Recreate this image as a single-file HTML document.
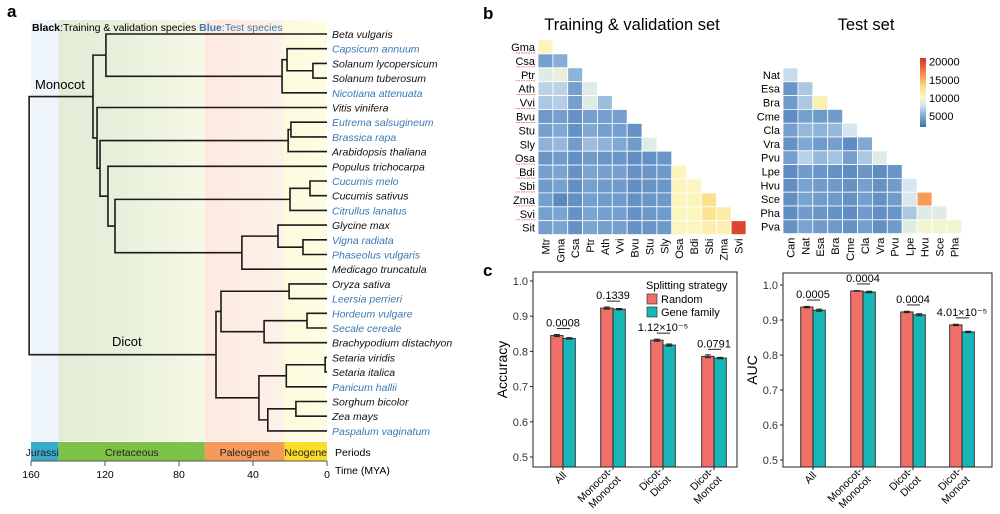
<!DOCTYPE html>
<html><head><meta charset="utf-8">
<style>
html,body{margin:0;padding:0;background:#fff;}
svg{display:block;font-family:"Liberation Sans",Arial,sans-serif;}
</style></head>
<body>
<svg id="fig" width="1000" height="514" viewBox="0 0 1000 514" xmlns="http://www.w3.org/2000/svg">
<defs>
<linearGradient id="eraGrad" x1="31" x2="327" y1="0" y2="0" gradientUnits="userSpaceOnUse">
<stop offset="0" stop-color="#eef5fa"/><stop offset="0.092" stop-color="#eef5fa"/>
<stop offset="0.094" stop-color="#e2ecd6"/><stop offset="0.3" stop-color="#e8f0dc"/>
<stop offset="0.45" stop-color="#eef4e0"/><stop offset="0.586" stop-color="#f6f9e6"/>
<stop offset="0.59" stop-color="#fde9df"/><stop offset="0.85" stop-color="#fdf1e8"/>
<stop offset="0.857" stop-color="#fdfbdc"/><stop offset="1" stop-color="#fefce4"/>
</linearGradient>
<linearGradient id="cbar" x1="0" x2="0" y1="1" y2="0">
<stop offset="0" stop-color="#3f6fad"/><stop offset="0.16" stop-color="#7fa9d4"/>
<stop offset="0.32" stop-color="#d6e6f0"/><stop offset="0.42" stop-color="#fbf8c4"/>
<stop offset="0.58" stop-color="#fde08b"/><stop offset="0.74" stop-color="#f89b56"/>
<stop offset="1" stop-color="#d73027"/>
</linearGradient>
</defs>
<g id="panelA"></g>
<g id="panelB"></g>
<g id="panelC"></g>
</svg>
<script>
// ---------- Panel a data ----------
const leafNames = ["Beta vulgaris","Capsicum annuum","Solanum lycopersicum","Solanum tuberosum","Nicotiana attenuata","Vitis vinifera","Eutrema salsugineum","Brassica rapa","Arabidopsis thaliana","Populus trichocarpa","Cucumis melo","Cucumis sativus","Citrullus lanatus","Glycine max","Vigna radiata","Phaseolus vulgaris","Medicago truncatula","Oryza sativa","Leersia perrieri","Hordeum vulgare","Secale cereale","Brachypodium distachyon","Setaria viridis","Setaria italica","Panicum hallii","Sorghum bicolor","Zea mays","Paspalum vaginatum"];
const testLeaves = ["Capsicum annuum","Nicotiana attenuata","Eutrema salsugineum","Brassica rapa","Cucumis melo","Citrullus lanatus","Vigna radiata","Phaseolus vulgaris","Leersia perrieri","Hordeum vulgare","Secale cereale","Panicum hallii","Paspalum vaginatum"];
// nodes: [id, age (MYA), child1, child2]; children are leaf indexes (numbers) or node ids
const treeNodes = [
["sol1",7.6,2,3],["sol2",21.6,1,"sol1"],["sol3",24.3,"sol2",4],["ast",119.5,0,"sol3"],
["bra1",19.5,6,7],["bra2",21,"bra1",8],
["cuc1",9.2,10,11],["cuc2",20,"cuc1",12],
["leg1",13,14,15],["leg2",26.5,13,"leg1"],["leg3",46,"leg2",16],
["fab",114.6,"cuc2","leg3"],["pop",118.4,9,"fab"],["ros",122.7,"bra2","pop"],
["vit",124.3,5,"ros"],["eud",126.5,"ast","vit"],
["ory",20.5,17,18],["poo1",10.8,19,20],["poo2",34,"poo1",21],["bop",57.3,"ory","poo2"],
["set1",1,22,23],["set2",22,"set1",24],["and1",16.8,25,26],["and2",32,"and1",27],
["pac",36.8,"set2","and2"],["mono",60,"bop","pac"],
["root",161,"eud","mono"]];
const timeTicks = [160,120,80,40,0];
const periodNames = ["Jurassic","Cretaceous","Paleogene","Neogene"];
const periodStart = [160,145,66,23];
const periodEnd = [145,66,23,0];
const periodColors = ["#3aaacb","#7dc146","#f79a59","#fcdc2a"];

// ---------- Panel b data ----------
const trainLabels = ["Mtr","Gma","Csa","Ptr","Ath","Vvi","Bvu","Stu","Sly","Osa","Bdi","Sbi","Zma","Svi","Sit"];
const trainValues = [
[10500],
[4500,5200],
[8500,9000,5500],
[7000,7000,4500,8500],
[6500,6800,4500,8500,6000],
[4200,4500,3800,4500,4500,4500],
[4500,5000,3800,5000,4500,4500,3800],
[5500,5800,4300,6000,5500,5000,4300,8500],
[4000,4300,3700,4300,4000,4000,3600,3800,4000],
[4500,4800,3800,4800,4500,4500,3800,4000,4200,10500],
[4300,4600,3700,4600,4300,4300,3700,3900,4100,10500,10300],
[4500,3300,3700,4500,4300,4300,3800,4000,4200,10500,10500,13000],
[4600,4800,3800,4800,4500,4500,3800,4100,4300,10300,10300,12500,11500],
[4500,4800,3800,4800,4500,4500,3800,4000,4200,10200,10200,11200,11000,20000]];
const testLabels = ["Can","Nat","Esa","Bra","Cme","Cla","Vra","Pvu","Lpe","Hvu","Sce","Pha","Pva"];
const testValues = [
[7500],
[4000,6500],
[4300,6500,11000],
[3500,4500,4200,4300],
[4500,5800,5500,5800,8000],
[3800,5000,4300,4500,3500,5000],
[4500,7000,5800,6300,4500,6500,8500],
[3500,4300,4000,3800,3500,4000,3500,4000],
[3700,4700,4300,4200,3800,4500,3800,4300,8000],
[3700,4700,4300,4200,3800,4500,3800,4300,8200,16000],
[3500,4300,4000,3800,3500,4300,3700,4000,6500,8500,8500],
[3800,4700,4300,4200,3800,4500,3700,4300,8500,9500,9500,9500]];
const colorbarTicks = [5000,10000,15000,20000];
const underlined = ["Gma","Csa","Ptr","Ath","Vvi","Bvu","Osa","Bdi","Sbi","Zma","Svi"];

// ---------- Panel c data ----------
const groups = ["All","Monocot-Monocot","Dicot-Dicot","Dicot-Moncot"];
const accRandom = [0.845,0.923,0.832,0.786];
const accGene = [0.837,0.920,0.818,0.781];
const accErrR = [0.003,0.003,0.003,0.004];
const accErrG = [0.002,0.002,0.003,0.002];
const accP = ["0.0008","0.1339","1.12×10⁻⁵","0.0791"];
const aucRandom = [0.937,0.983,0.923,0.886];
const aucGene = [0.928,0.980,0.915,0.866];
const aucErrR = [0.002,0.001,0.002,0.002];
const aucErrG = [0.003,0.002,0.003,0.002];
const aucP = ["0.0005","0.0004","0.0004","4.01×10⁻⁵"];
const yTicks = [0.5,0.6,0.7,0.8,0.9,1.0];

const NS="http://www.w3.org/2000/svg";
function mk(parent,tag,attrs,text){const e=document.createElementNS(NS,tag);for(const k in attrs)e.setAttribute(k,attrs[k]);if(text!==undefined)e.textContent=text;parent.appendChild(e);return e;}

// ================= Panel a =================
(function(){
const g=document.getElementById('panelA');
const xT=a=>327-a*1.85;
const yL=i=>34+i*14.7;
let t=mk(g,'text',{x:7,y:17,'font-size':17,'font-weight':'bold'},'a');


const bg=mk(g,'rect',{x:31,y:20,width:296,height:421,fill:'url(#eraGrad)'});


const lg=mk(g,'text',{x:32,y:31,'font-size':10.5});


mk(lg,'tspan',{'font-weight':'bold'},'Black');mk(lg,'tspan',{},':Training & validation species  ');
mk(lg,'tspan',{'font-weight':'bold',fill:'#3b78b0'},'Blue');mk(lg,'tspan',{fill:'#3b78b0'},':Test species');
const pos={};
const getY=k=>typeof k==='number'?yL(k):pos[k].y;
const getX=k=>typeof k==='number'?327:pos[k].x;
treeNodes.forEach(n=>{
 const [id,age,a,b]=n;
 const x=xT(age), ya=getY(a), yb=getY(b);
 pos[id]={x:x,y:(ya+yb)/2};
 const br=mk(g,'path',{d:`M${getX(a)},${ya}H${x}V${yb}H${getX(b)}`,fill:'none',stroke:'#1a1a1a','stroke-width':1.6});
 
 
});
leafNames.forEach((nm,i)=>{
 const e=mk(g,'text',{x:332,y:yL(i)+4,'font-size':10.5,'font-style':'italic',fill:testLeaves.includes(nm)?'#3b78b0':'#111'},nm);
 
 
});
t=mk(g,'text',{x:35,y:89,'font-size':13},'Monocot');


t=mk(g,'text',{x:112,y:346,'font-size':13},'Dicot');


periodNames.forEach((p,i)=>{
 const x0=xT(periodStart[i]),x1=xT(periodEnd[i]);
 const r=mk(g,'rect',{x:x0,y:442,width:x1-x0,height:19,fill:periodColors[i]});
 
 
 const tx=mk(g,'text',{x:(x0+x1)/2,y:456,'font-size':10.5,'text-anchor':'middle',fill:'#222'},p);
 
 
});
t=mk(g,'text',{x:335,y:456,'font-size':10.5},'Periods');


const ax=mk(g,'line',{x1:31,x2:327,y1:461,y2:461,stroke:'#555'});


timeTicks.forEach(v=>{
 mk(g,'line',{x1:xT(v),x2:xT(v),y1:461,y2:466,stroke:'#555'});
 const e=mk(g,'text',{x:xT(v),y:478,'font-size':10.5,'text-anchor':'middle'},String(v));
 
 
});
t=mk(g,'text',{x:335,y:474,'font-size':10.5},'Time (MYA)');


})();

// ================= Panel b =================
function colorOf(v){
 const st=[[2000,[63,111,173]],[5000,[127,169,212]],[8000,[214,230,240]],[10000,[251,248,196]],[13000,[253,224,139]],[16000,[248,155,86]],[21000,[215,48,39]]];
 if(v<=st[0][0])return 'rgb('+st[0][1]+')';
 for(let i=1;i<st.length;i++){if(v<=st[i][0]){const f=(v-st[i-1][0])/(st[i][0]-st[i-1][0]);const c=st[i-1][1].map((a,j)=>Math.round(a+(st[i][1][j]-a)*f));return 'rgb('+c+')';}}
 return 'rgb('+st[st.length-1][1]+')';
}
(function(){
const g=document.getElementById('panelB');
let t=mk(g,'text',{x:483,y:19,'font-size':17,'font-weight':'bold'},'b');


t=mk(g,'text',{x:632,y:30,'font-size':16.5,'text-anchor':'middle'},'Training & validation set');


t=mk(g,'text',{x:866,y:30,'font-size':16.5,'text-anchor':'middle'},'Test set');


function heat(labels,values,x0,y0,cw,ch,name){
 values.forEach((row,r)=>{
  const rl=mk(g,'text',{x:x0-3,y:y0+r*ch+ch/2+4,'font-size':11,'text-anchor':'end'},labels[r+1]);
  
  
  if(name==='train'&&underlined.includes(labels[r+1])){mk(g,'line',{x1:x0-22,x2:x0-3,y1:y0+r*ch+ch/2+6,y2:y0+r*ch+ch/2+6,stroke:'#d55','stroke-width':0.8,'stroke-dasharray':'1.5,1'});}
  row.forEach((v,c)=>{
   const cell=mk(g,'rect',{x:x0+c*cw,y:y0+r*ch,width:cw,height:ch,fill:colorOf(v),stroke:'#fff','stroke-width':0.8});
   
   
  });
 });
 const yb=y0+values.length*ch;
 labels.slice(0,values.length).forEach((l,c)=>{
  const cx=x0+c*cw+cw/2+4;
  const cl=mk(g,'text',{x:cx,y:yb+4,'font-size':11,'text-anchor':'end',transform:`rotate(-90 ${cx} ${yb+4})`},l);
  
  
 });
}
heat(trainLabels,trainValues,538,40,14.86,13.9,'train');
heat(testLabels,testValues,783,68,14.9,13.8,'test');
const cb=mk(g,'rect',{x:920,y:58,width:6,height:69,fill:'url(#cbar)'});


const cy=v=>127-(v-2000)/(21000-2000)*69;
colorbarTicks.forEach(v=>{
 const e=mk(g,'text',{x:929,y:cy(v)+4,'font-size':11},String(v));
 
 
});
})();

// ================= Panel c =================
(function(){
const g=document.getElementById('panelC');
let t=mk(g,'text',{x:483,y:276,'font-size':17,'font-weight':'bold'},'c');


function chart(cfg){
 const {x0,x1,yTop,yBot,y05,y10,centers,rv,gv,re,ge,pv,title,name,legend}=cfg;
 const Y=v=>y05-(v-0.5)/0.5*(y05-y10);
 const box=mk(g,'rect',{x:x0,y:yTop,width:x1-x0,height:yBot-yTop,fill:'none',stroke:'#222','stroke-width':1});
 
 
 yTicks.forEach(v=>{
  mk(g,'line',{x1:x0-3,x2:x0,y1:Y(v),y2:Y(v),stroke:'#222'});
  const e=mk(g,'text',{x:x0-5,y:Y(v)+4,'font-size':11,'text-anchor':'end',fill:'#333'},v.toFixed(1));
  
  
 });
 const ty=(yTop+yBot)/2, tx=x0-26;
 const yt=mk(g,'text',{x:tx,y:ty,'font-size':14,'text-anchor':'middle',transform:`rotate(-90 ${tx} ${ty})`},title);
 
 
 const bw=12.3;
 groups.forEach((grp,i)=>{
  const c=centers[i];
  [[rv[i],re[i],c-bw,'#f07068'],[gv[i],ge[i],c,'#19b6b8']].forEach(([v,e,x,col],k)=>{
   const b=mk(g,'rect',{x:x,y:Y(v),width:bw,height:yBot-Y(v),fill:col,stroke:'#222','stroke-width':0.9});
   
   
   mk(g,'path',{d:`M${x+bw/2-3},${Y(v+e)}H${x+bw/2+3}M${x+bw/2},${Y(v+e)}V${Y(v-e)}M${x+bw/2-3},${Y(v-e)}H${x+bw/2+3}`,stroke:'#222','stroke-width':1,fill:'none'});
  });
  const top=Y(Math.max(rv[i],gv[i]))-7;
  mk(g,'line',{x1:c-bw/2,x2:c+bw/2+1,y1:top,y2:top,stroke:'#222','stroke-width':1});
  const p=mk(g,'text',{x:c,y:top-2,'font-size':11,'text-anchor':'middle'},pv[i]);
  
  
  mk(g,'line',{x1:c,x2:c,y1:yBot,y2:yBot+3,stroke:'#222'});
  const parts=grp==='All'?['All']:grp.split('-').map((s,j)=>j===0?s+'-':s);
  const lx=c+4, ly=yBot+9;
  const lab=mk(g,'text',{x:lx,y:ly,'font-size':10.5,'text-anchor':'end',transform:`rotate(-45 ${lx} ${ly})`});
  
  
  parts.forEach((s,j)=>{mk(lab,'tspan',{x:lx-(parts.length-1-j)*0,dy:j?12:(parts.length>1?0:0),'text-anchor':'end'},s);});
  if(parts.length>1){lab.setAttribute('transform',`rotate(-45 ${lx} ${ly}) translate(0 ${-6})`);lab.children[1].setAttribute('dx','0');}
 });
 if(legend){
  const lt=mk(g,'text',{x:646,y:289,'font-size':11},'Splitting strategy');
  
  
  [['Random','#f07068',294],['Gene family','#19b6b8',307]].forEach(([l,c,y])=>{
   const s=mk(g,'rect',{x:647,y:y,width:10,height:10,fill:c,stroke:'#222','stroke-width':0.6});
   
   
   const e=mk(g,'text',{x:661,y:y+9,'font-size':11},l);
   
   
  });
 }
}
chart({x0:533,x1:737,yTop:272,yBot:467,y05:457,y10:281,centers:[563,613,663,714],rv:accRandom,gv:accGene,re:accErrR,ge:accErrG,pv:accP,title:'Accuracy',name:'accuracy',legend:true});
chart({x0:783,x1:992,yTop:273,yBot:467,y05:460,y10:285,centers:[813,863,913,962],rv:aucRandom,gv:aucGene,re:aucErrR,ge:aucErrG,pv:aucP,title:'AUC',name:'auc',legend:false});
})();
</script>
</body></html>
